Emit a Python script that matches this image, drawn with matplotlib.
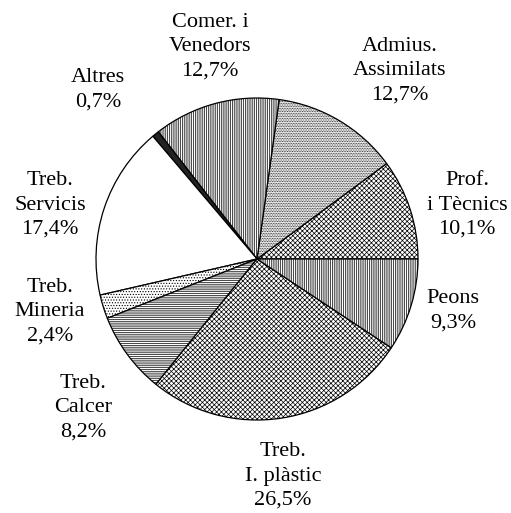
import matplotlib
matplotlib.use('Agg')
import matplotlib.pyplot as plt

plt.rcParams['font.family'] = ['Liberation Serif', 'DejaVu Serif']
plt.rcParams['hatch.linewidth'] = 0.5

# data, counterclockwise from 3 o'clock
labels = ['Prof.\ni Tècnics', 'Admius.\nAssimilats', 'Comer. i\nVenedors', 'Altres',
          'Treb.\nServicis', 'Treb.\nMineria', 'Treb.\nCalcer', 'Treb.\nI. plàstic', 'Peons']
values = [10.1, 12.7, 12.7, 0.7, 17.4, 2.4, 8.2, 26.5, 9.3]
pct_text = ['10,1%', '12,7%', '12,7%', '0,7%', '17,4%', '2,4%', '8,2%', '26,5%', '9,3%']

# styling per slice
hatches = ['xxxxxxx', '..........', '|||||||||', '', '', '......', '---------', 'xxxxxxx', '|||||||||']
fills = ['white', 'white', 'white', '#222222', 'white', 'white', 'white', 'white', 'white']

# label centres in pixels (x, y from top)
label_px = [(467, 205), (400, 71), (210, 47), (98, 90), (50, 205),
            (50, 312), (83, 408), (283, 476), (453, 311)]

W, H = 511, 513
cx, cy, r = 257, 259, 161

fig = plt.figure(figsize=(W / 100, H / 100), dpi=100)
ax = fig.add_axes([(cx - r) / W, (H - cy - r) / H, 2 * r / W, 2 * r / H])

wedges, _ = ax.pie(values, startangle=0, counterclock=True, colors=fills,
                   wedgeprops=dict(edgecolor='black', linewidth=0.9))
for w, h in zip(wedges, hatches):
    w.set_hatch(h)

ax.set_xlim(-1, 1)
ax.set_ylim(-1, 1)
ax.set_aspect('auto')
ax.axis('off')

for lab, pct, (px, py) in zip(labels, pct_text, label_px):
    fig.text(px / W, 1 - py / H, lab + '\n' + pct, ha='center', va='center',
             fontsize=16, linespacing=1.38)

fig.savefig('out.png', dpi=100)
